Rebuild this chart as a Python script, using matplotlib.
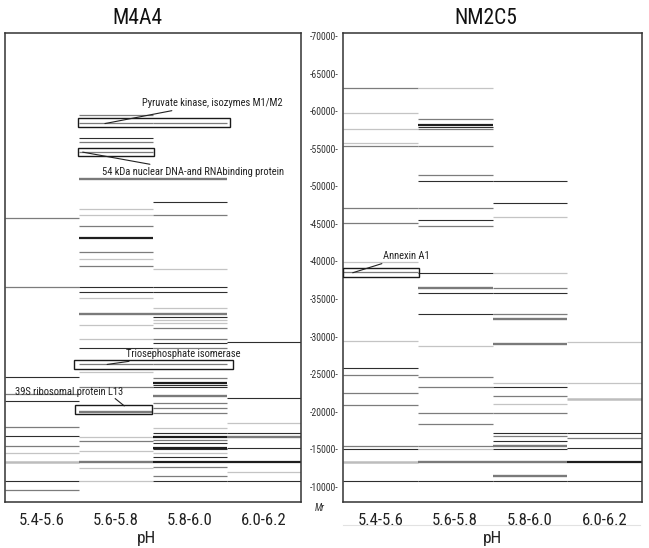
import matplotlib
matplotlib.use("Agg")
import matplotlib.pyplot as plt
from matplotlib import font_manager
from matplotlib.patches import Rectangle
from matplotlib.lines import Line2D

_names = {f.name for f in font_manager.fontManager.ttflist}
_fams = [n for n in ['Liberation Sans Narrow', 'DejaVu Sans Condensed', 'Roboto Condensed',
                     'Open Sans Condensed'] if n in _names]
NARROW = bool(_fams)
plt.rcParams['font.family'] = _fams + ['DejaVu Sans']

# ---------------- data ----------------
ph_ranges = ["5.4-5.6", "5.6-5.8", "5.8-6.0", "6.0-6.2"]
mr_ticks = [70000, 65000, 60000, 55000, 50000, 45000, 40000, 35000,
            30000, 25000, 20000, 15000, 10000]

# intensity codes: k dark, g mid, l faint (upper case = strong/broad band)
m4a4_mr_0 = [45800, 36600, 24650, 22350, 21500, 18000, 16800, 15450, 14500, 13300, 10750, 9550]
m4a4_int_0 = ['g', 'g', 'k', 'g', 'k', 'g', 'k', 'g', 'l', 'L', 'k', 'g']

m4a4_mr_1 = [59500, 58400, 56450, 55900, 54550, 51000, 47000, 46200, 44700, 43100, 41250, 40350,
             39400, 36600, 35950, 35150, 33000, 31600, 29700, 28500, 26350, 25250, 23250, 20000,
             16650, 16050, 14800, 13300, 12500, 10750]
m4a4_int_1 = ['g', 'g', 'k', 'g', 'g', 'G', 'l', 'l', 'g', 'K', 'g', 'l',
              'g', 'k', 'k', 'l', 'G', 'l', 'l', 'k', 'g', 'l', 'g', 'G',
              'l', 'g', 'l', 'G', 'l', 'l']

m4a4_mr_2 = [58400, 51000, 47900, 46200, 39000, 36600, 35950, 33800, 33000, 32550, 32200, 31800,
             31150, 29700, 29150, 28500, 26350, 24500, 23850, 23550, 23250, 22100, 21150, 20450,
             19900, 17850, 17200, 16650, 16300, 15850, 15250, 15000, 14500, 14000, 13300, 12700,
             11450, 10750]
m4a4_int_2 = ['g', 'G', 'k', 'g', 'l', 'k', 'k', 'l', 'G', 'k', 'l', 'l',
              'g', 'g', 'k', 'g', 'g', 'g', 'K', 'k', 'k', 'G', 'g', 'g',
              'g', 'l', 'k', 'K', 'g', 'k', 'K', 'k', 'l', 'k', 'K', 'g',
              'g', 'k']

m4a4_mr_3 = [29300, 21900, 18500, 17200, 16650, 15250, 13300, 11950, 10750]
m4a4_int_3 = ['k', 'k', 'l', 'k', 'G', 'k', 'K', 'l', 'k']

nm2c5_mr_0 = [63100, 59750, 57600, 55750, 55350, 47100, 45100, 39950, 38600, 29400, 25850, 24900,
              22500, 20900, 15450, 15000, 13300, 10750]
nm2c5_int_0 = ['g', 'l', 'l', 'l', 'g', 'g', 'g', 'l', 'g', 'l', 'k', 'g',
               'g', 'g', 'g', 'k', 'L', 'k']

nm2c5_mr_1 = [63100, 58900, 58150, 57900, 57600, 55350, 51500, 50700, 47100, 45500, 44700, 38450,
              36450, 35750, 33000, 28750, 24650, 23250, 19850, 18400, 15450, 15000, 13300, 10750]
nm2c5_int_1 = ['l', 'g', 'K', 'k', 'g', 'g', 'g', 'k', 'g', 'k', 'g', 'k',
               'G', 'k', 'k', 'l', 'g', 'g', 'g', 'g', 'g', 'l', 'G', 'k']

nm2c5_mr_2 = [50700, 47800, 45900, 38450, 36450, 35750, 33000, 32350, 29000, 23850, 23250, 22100,
              21050, 19850, 17200, 16800, 16050, 15450, 15000, 13300, 11450, 10750]
nm2c5_int_2 = ['k', 'k', 'l', 'l', 'g', 'k', 'g', 'G', 'G', 'l', 'k', 'g',
               'l', 'g', 'k', 'g', 'k', 'G', 'k', 'G', 'G', 'k']

nm2c5_mr_3 = [29300, 23850, 21700, 17200, 16500, 15250, 13300, 10750]
nm2c5_int_3 = ['l', 'l', 'L', 'k', 'g', 'k', 'K', 'k']

m4a4_lanes = [(m4a4_mr_0, m4a4_int_0), (m4a4_mr_1, m4a4_int_1),
              (m4a4_mr_2, m4a4_int_2), (m4a4_mr_3, m4a4_int_3)]
nm2c5_lanes = [(nm2c5_mr_0, nm2c5_int_0), (nm2c5_mr_1, nm2c5_int_1),
               (nm2c5_mr_2, nm2c5_int_2), (nm2c5_mr_3, nm2c5_int_3)]

# ---------------- style ----------------
STYLE = {
    'k': ('#2e2e2e', 0.8), 'g': ('#7c7c7c', 0.9), 'l': ('#c4c4c4', 0.9),
    'K': ('#1e1e1e', 1.6), 'G': ('#7a7a7a', 1.7), 'L': ('#bdbdbd', 1.8),
}
FS_NOTE = 7.6 if NARROW else 6
FS_TICK = 12 if NARROW else 10.5
FS_MR = 7 if NARROW else 6
FS_TITLE = 15.5 if NARROW else 14

W, H = 649, 548
fig = plt.figure(figsize=(W / 100, H / 100), dpi=100)

YMIN, YMAX = 8000, 70400
axL = fig.add_axes([5 / W, 1 - 502 / H, 296 / W, 469 / H])
axR = fig.add_axes([343 / W, 1 - 502 / H, 299 / W, 469 / H])


def draw_lanes(ax, lanes):
    for i, (mrs, ints) in enumerate(lanes):
        for mr, code in zip(mrs, ints):
            c, lw = STYLE[code]
            ax.hlines(mr, i, i + 1, colors=c, linewidths=lw)


for ax, lanes, lab_x in [(axL, m4a4_lanes, (147 - 5) / 296), (axR, nm2c5_lanes, (493 - 343) / 299)]:
    draw_lanes(ax, lanes)
    ax.set_xlim(0, 4)
    ax.set_ylim(YMIN, YMAX)
    for s in ax.spines.values():
        s.set_color('#333333')
        s.set_linewidth(1.1)
    ax.set_xticks([0.5, 1.5, 2.5, 3.5])
    ax.set_xticklabels(ph_ranges, fontsize=FS_TICK, color='#222222')
    ax.tick_params(axis='x', length=0, pad=8)
    ax.set_xlabel("pH", fontsize=12.5, color='#222222')
    ax.xaxis.set_label_coords(lab_x, -(538 - 502) / 469)
    ax.xaxis.label.set_va('center')

fig.text(137 / W, 1 - 18 / H, "M4A4", fontsize=FS_TITLE, color='#111111', ha='center', va='center')
fig.text(486 / W, 1 - 18 / H, "NM2C5", fontsize=FS_TITLE, color='#111111', ha='center', va='center')

axL.yaxis.tick_right()
axL.set_yticks(mr_ticks)
axL.set_yticklabels([f"-{v}-" for v in mr_ticks], fontsize=FS_MR, color='#333333')
axL.tick_params(axis='y', length=0, pad=6)
axR.set_yticks([])

fig.text(320 / W, 1 - 508 / H, "Mr", fontsize=7, style='italic', ha='center', va='center',
         color='#333333')
fig.add_artist(Line2D([343 / W, 640 / W], [1 - 525 / H, 1 - 525 / H], color='#e2e2e2', lw=0.8,
                      zorder=-1))

# ---------------- annotations ----------------
def box(ax, x0, x1, y0, y1):
    ax.add_patch(Rectangle((x0, y0), x1 - x0, y1 - y0, fill=False, ec='#1a1a1a', lw=1.0, zorder=5))


def note(ax, text, xy, xytext, ha='left'):
    ax.annotate(text, xy=xy, xytext=xytext, fontsize=FS_NOTE, color='#222222', ha=ha, va='center',
                arrowprops=dict(arrowstyle='-', color='#222222', lw=0.8, shrinkA=0, shrinkB=0),
                zorder=6)


box(axL, 0.99, 3.04, 57850, 59050)
note(axL, "Pyruvate kinase, isozymes M1/M2", (1.35, 58350), (1.85, 61100))
box(axL, 0.99, 2.01, 54050, 55100)
note(axL, "54 kDa nuclear DNA-and RNAbinding protein", (1.05, 54550), (1.31, 51900))
box(axL, 0.93, 3.08, 25700, 26900)
note(axL, "Triosephosphate isomerase", (1.38, 26300), (1.64, 27750))
box(axL, 0.95, 1.99, 19700, 20900)
axL.text(0.135, 22650, "39S ribosomal protein L13", fontsize=FS_NOTE, color='#222222', va='center')
axL.plot([1.49, 1.61], [21750, 20800], color='#222222', lw=0.8)
box(axR, 0.0, 1.02, 37950, 39150)
note(axR, "Annexin A1", (0.13, 38500), (0.54, 40750))

fig.savefig("out.png", dpi=100)
